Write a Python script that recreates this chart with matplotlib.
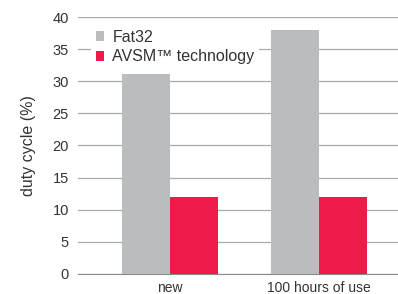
import matplotlib
matplotlib.use("Agg")
import matplotlib.pyplot as plt
import numpy as np

categories = ["new", "100 hours of use"]
fat32 = [31.2, 38.0]
avsm = [12.0, 12.0]
series_names = ["Fat32", "AVSM\u2122 technology"]

plt.rcParams['font.family'] = ['Liberation Sans', 'DejaVu Sans']

fig = plt.figure(figsize=(3.98, 2.94), dpi=100)
ax = fig.add_axes([78/398, 1 - 273.7/294, 1 - 78/398, 256.5/294])

x = np.arange(len(categories))
w = 0.322
ax.bar(x - w/2, fat32, w, color="#BBBCBF", label=series_names[0], zorder=3)
ax.bar(x + w/2, avsm, w, color="#EE1A4A", label=series_names[1], zorder=3)

ax.set_xlim(-0.617, 1.53)
ax.set_ylim(0, 40)
ax.set_yticks(range(0, 41, 5))
ax.set_xticks(x)
ax.set_xticklabels(categories)
ax.grid(axis='y', color="#AAAAAA", linewidth=0.9, zorder=0)
for s in ["top", "right", "left"]:
    ax.spines[s].set_visible(False)
ax.spines["bottom"].set_color("#888888")
ax.tick_params(axis='both', length=0, labelsize=10.5, colors="#333333")
ax.tick_params(axis='y', pad=6.5)
ax.tick_params(axis='x', pad=5, labelsize=10)
ax.set_ylabel("duty cycle (%)", fontsize=11.5, color="#333333", labelpad=12)

leg = ax.legend(loc="upper left", bbox_to_anchor=(0.04, 0.97), frameon=True,
                facecolor="white", edgecolor="none", framealpha=1,
                fontsize=11.5, handlelength=0.55, handleheight=0.55,
                handletextpad=0.5, borderpad=0.3, labelspacing=0.3,
                borderaxespad=0.0)
leg.set_zorder(5)
for t in leg.get_texts():
    t.set_color("#333333")

fig.savefig("out.png", dpi=100)
